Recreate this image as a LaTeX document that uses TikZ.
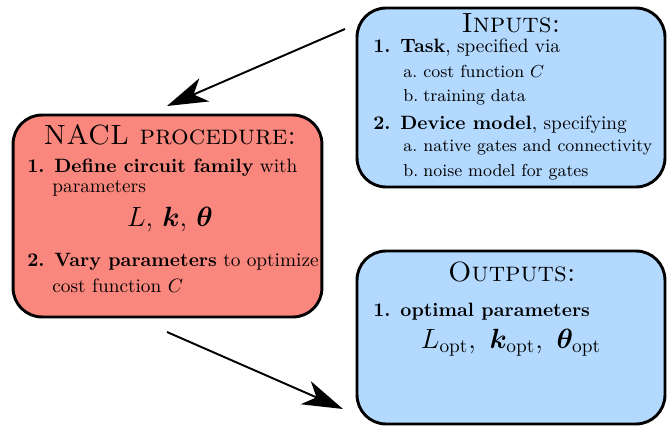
\documentclass[tikz,border=0pt]{standalone}
\usepackage{amsmath,bm}
\usetikzlibrary{arrows.meta}
\usetikzlibrary{positioning}

\definecolor{inblue}{RGB}{179,217,255}
\definecolor{procred}{RGB}{250,135,125}

\tikzset{
  panel/.style={draw, line width=1.5pt, rounded corners=15pt, inner sep=0pt},
  line/.style={anchor=base west, inner sep=0pt},
  subline/.style={line, font=\small},
  head/.style={anchor=base, inner sep=0pt, font=\Large\scshape},
  flow/.style={->, line width=1pt},
}
\newcommand{\itm}[1]{\makebox[14pt][l]{\textbf{#1}}}
\newcommand{\subitm}[1]{\makebox[10.4pt][l]{#1}}

\begin{document}
\begin{tikzpicture}[x=0.518pt,y=-0.518pt,>={Stealth[length=21pt,width=13pt,inset=6pt]}]
    \useasboundingbox (0,0) rectangle (672,432);

    % boxes
    \node[panel, fill=inblue, minimum width=159.5pt, minimum height=92.7pt] (inputs) at (511,97.5) {};
    \node[panel, fill=procred, minimum width=160pt, minimum height=104.6pt] (nacl) at (167.5,216) {};
    \node[panel, fill=inblue, minimum width=159.5pt, minimum height=89.6pt] (outputs) at (511,337.5) {};

    % inputs
    \node[head] (in-title) at (511,33) {Inputs:};
    \node[line] (in-task) at (373,53) {\itm{1.}\textbf{Task}, specified via};
    \node[subline] (in-cost) at (403,78) {\subitm{a.}cost function $C$};
    \node[subline] (in-data) at (403,102) {\subitm{b.}training data};
    \node[line] (in-device) at (373,130) {\itm{2.}\textbf{Device model}, specifying};
    \node[subline] (in-gates) at (403,152) {\subitm{a.}native gates and connectivity};
    \node[subline] (in-noise) at (403,177) {\subitm{b.}noise model for gates};

    % procedure
    \node[head] (proc-title) at (170,145) {NACL procedure:};
    \node[line] (proc-define) at (27,173) {\itm{1.}\textbf{Define circuit family} with};
    \node[line] (proc-params) at (52,193) {parameters};
    \node[anchor=base, inner sep=0pt, font=\Large] (proc-vars) at (170,227) {$L$, $\bm{k}$, $\bm{\theta}$};
    \node[line] (proc-vary) at (27,267) {\itm{2.}\textbf{Vary parameters} to optimize};
    \node[line] (proc-cost) at (52,293) {cost function $C$};

    % outputs
    \node[head] (out-title) at (512,282) {Outputs:};
    \node[line] (out-opt) at (373,317) {\itm{1.}\textbf{optimal parameters}};
    \node[anchor=base, inner sep=0pt, font=\Large] (out-vars) at (511,348) {$L_{\text{opt}}$,\, $\bm{k}_{\text{opt}}$,\, $\bm{\theta}_{\text{opt}}$};

    % arrows
    \coordinate (in-from) at (345,29);
    \coordinate (proc-to) at (167,106);
    \coordinate (proc-from) at (167,332);
    \coordinate (out-to) at (343,409);
    \draw[flow] (in-from) -- (proc-to);
    \draw[flow] (proc-from) -- (out-to);
\end{tikzpicture}
\end{document}
